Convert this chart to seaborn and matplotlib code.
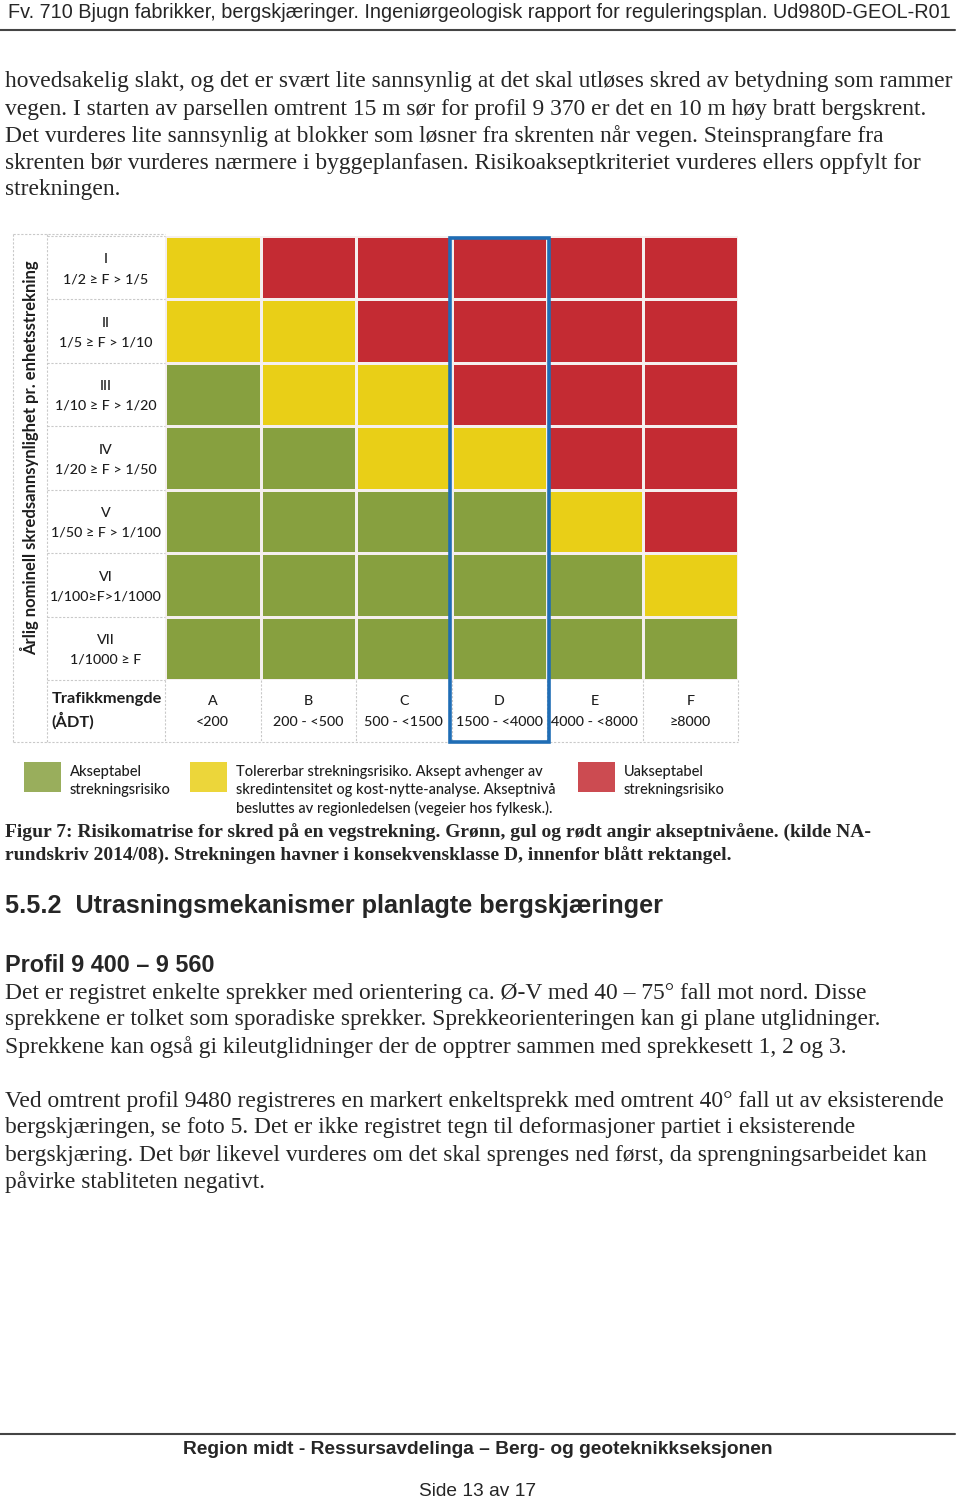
import numpy as np
import pandas as pd
import matplotlib
matplotlib.use("Agg")
import matplotlib.pyplot as plt
from matplotlib.colors import ListedColormap
from matplotlib.patches import Rectangle
import seaborn as sns

# ─── Data ─────────────────────────────────────────────────────────────────────

row_roman = ["I", "II", "III", "IV", "V", "VI", "VII"]
row_freq = ["1/2 ≥ F > 1/5", "1/5 ≥ F > 1/10", "1/10 ≥ F > 1/20", "1/20 ≥ F > 1/50",
            "1/50 ≥ F > 1/100", "1/100≥F>1/1000", "1/1000 ≥ F"]
col_letters = ["A", "B", "C", "D", "E", "F"]
col_adt = ["<200", "200 - <500", "500 - <1500", "1500 - <4000", "4000 - <8000", "≥8000"]

# 0 = akseptabel (grønn), 1 = tolererbar (gul), 2 = uakseptabel (rød)
level_I = [1, 2, 2, 2, 2, 2]
level_II = [1, 1, 2, 2, 2, 2]
level_III = [0, 1, 1, 2, 2, 2]
level_IV = [0, 0, 1, 1, 2, 2]
level_V = [0, 0, 0, 0, 1, 2]
level_VI = [0, 0, 0, 0, 0, 1]
level_VII = [0, 0, 0, 0, 0, 0]

highlight_col = "D"

level_colors = ["#87A03F", "#E9CF17", "#C42B33"]
legend_text = [
    "Akseptabel\nstrekningsrisiko",
    "Tolererbar strekningsrisiko. Aksept avhenger av\nskredintensitet og kost-nytte-analyse. Akseptnivå\nbesluttes av regionledelsen (vegeier hos fylkesk.).",
    "Uakseptabel\nstrekningsrisiko",
]

header = "Fv. 710 Bjugn fabrikker, bergskjæringer. Ingeniørgeologisk rapport for reguleringsplan. Ud980D-GEOL-R01"
para1 = [
    "hovedsakelig slakt, og det er svært lite sannsynlig at det skal utløses skred av betydning som rammer",
    "vegen. I starten av parsellen omtrent 15 m sør for profil 9 370 er det en 10 m høy bratt bergskrent.",
    "Det vurderes lite sannsynlig at blokker som løsner fra skrenten når vegen. Steinsprangfare fra",
    "skrenten bør vurderes nærmere i byggeplanfasen. Risikoakseptkriteriet vurderes ellers oppfylt for",
    "strekningen.",
]
caption = [
    "Figur 7: Risikomatrise for skred på en vegstrekning. Grønn, gul og rødt angir akseptnivåene. (kilde NA-",
    "rundskriv 2014/08). Strekningen havner i konsekvensklasse D, innenfor blått rektangel.",
]
heading = "5.5.2  Utrasningsmekanismer planlagte bergskjæringer"
subheading = "Profil 9 400 – 9 560"
para2 = [
    "Det er registret enkelte sprekker med orientering ca. Ø-V med 40 – 75° fall mot nord. Disse",
    "sprekkene er tolket som sporadiske sprekker. Sprekkeorienteringen kan gi plane utglidninger.",
    "Sprekkene kan også gi kileutglidninger der de opptrer sammen med sprekkesett 1, 2 og 3.",
]
para3 = [
    "Ved omtrent profil 9480 registreres en markert enkeltsprekk med omtrent 40° fall ut av eksisterende",
    "bergskjæringen, se foto 5. Det er ikke registret tegn til deformasjoner partiet i eksisterende",
    "bergskjæring. Det bør likevel vurderes om det skal sprenges ned først, da sprengningsarbeidet kan",
    "påvirke stabliteten negativt.",
]
footer = "Region midt - Ressursavdelinga – Berg- og geoteknikkseksjonen"
page_no = "Side 13 av 17"

matrix = pd.DataFrame([level_I, level_II, level_III, level_IV, level_V, level_VI, level_VII],
                      index=row_roman, columns=col_letters)

# ─── Fonts ────────────────────────────────────────────────────────────────────

sns.set_theme(style="white")
serif = ["Liberation Serif", "DejaVu Serif"]
sans = ["Liberation Sans", "DejaVu Sans"]
calibri = ["Lato", "DejaVu Sans"]
plt.rcParams["font.family"] = serif

body_fs = 16.9
W, H = 960, 1500
fig = plt.figure(figsize=(W / 100, H / 100), dpi=100)
fig.patch.set_facecolor("white")

page = fig.add_axes([0, 0, 1, 1])
page.set_xlim(0, W)
page.set_ylim(H, 0)
page.axis("off")

# ─── Header / body text ───────────────────────────────────────────────────────

page.text(8, 13, header, family=sans, fontsize=14.3, va="center", ha="left")
page.plot([0, 955], [30, 30], color="#444444", lw=1.5)

for i, line in enumerate(para1):
    page.text(5, 82 + 27 * i, line, family=serif, fontsize=body_fs, va="center")

# ─── Risk matrix ──────────────────────────────────────────────────────────────

x0, x1, y0, y1 = 165, 738, 236, 680
ax = fig.add_axes([x0 / W, 1 - y1 / H, (x1 - x0) / W, (y1 - y0) / H])
sns.heatmap(matrix, cmap=ListedColormap(level_colors), vmin=-0.5, vmax=2.5, cbar=False,
            linewidths=2, linecolor="#f5efee", ax=ax)
ax.set_xticks([])
ax.set_yticks([])
ax.set_xlabel("")
ax.set_ylabel("")

cw = (x1 - x0) / len(col_letters)
rh = (y1 - y0) / len(row_roman)
lab_x = -(x0 - 47) / cw          # left edge of label column
vert_x = -(x0 - 13) / cw         # left edge of vertical title column
bot_y = len(row_roman) + 62 / rh  # bottom of label row
grid_kw = dict(color="#c9c9c9", lw=0.8, ls=(0, (2, 1.5)), clip_on=False)
lab_fs = 10.3
ink = "#1e1e1e"
txt_kw = dict(family=calibri, fontsize=lab_fs, fontweight="medium", color=ink, clip_on=False)

for i, (rom, fr) in enumerate(zip(row_roman, row_freq)):
    ax.text(lab_x / 2, i + 0.37, rom, ha="center", va="center", **txt_kw)
    ax.text(lab_x / 2, i + 0.68, fr, ha="center", va="center", **txt_kw)
    ax.plot([lab_x, 0], [i, i], **grid_kw)
ax.plot([lab_x, 0], [len(row_roman)] * 2, **grid_kw)

for j, (let, adt) in enumerate(zip(col_letters, col_adt)):
    ax.text(j + 0.5, len(row_roman) + 0.33, let, ha="center", va="center", **txt_kw)
    ax.text(j + 0.5, len(row_roman) + 0.66, adt, ha="center", va="center", **txt_kw)
    ax.plot([j, j], [len(row_roman), bot_y], **grid_kw)
ax.plot([len(col_letters)] * 2, [len(row_roman), bot_y], **grid_kw)

ax.text(lab_x + 0.05, len(row_roman) + 0.3, "Trafikkmengde", family=calibri, fontsize=11.8,
        fontweight="bold", ha="left", va="center", color=ink, clip_on=False)
ax.text(lab_x + 0.05, len(row_roman) + 0.64, "(ÅDT)", family=calibri, fontsize=11.8,
        fontweight="bold", ha="left", va="center", color=ink, clip_on=False)
ax.text((vert_x + lab_x) / 2, 3.5, "Årlig nominell skredsannsynlighet pr. enhetsstrekning",
        family=calibri, fontsize=12, fontweight="bold", rotation=90, ha="center", va="center",
        color=ink, clip_on=False)

# outer dashed frame of label columns
ax.plot([vert_x, vert_x], [-0.03, bot_y], **grid_kw)
ax.plot([lab_x, lab_x], [-0.03, bot_y], **grid_kw)
ax.plot([vert_x, len(col_letters)], [bot_y, bot_y], **grid_kw)
ax.plot([vert_x, 0], [-0.03, -0.03], **grid_kw)

# blue rectangle around the chosen consequence class
hj = col_letters.index(highlight_col)
ax.add_patch(Rectangle((hj - 0.02, 0.03), 1.04, bot_y - 0.03, fill=False, ec="#1F6DB5",
                       lw=2.6, clip_on=False, zorder=5))

# ─── Legend ───────────────────────────────────────────────────────────────────

leg_x = [24, 190, 578]
for lx, col, txt in zip(leg_x, level_colors, legend_text):
    page.add_patch(Rectangle((lx, 762), 37, 30, color=col, alpha=0.85, lw=0))
    page.text(lx + 46, 765, txt, family=calibri, fontsize=10.5, fontweight="medium", va="top",
              ha="left", color=ink, linespacing=1.35)

# ─── Caption, headings, body ──────────────────────────────────────────────────

for i, line in enumerate(caption):
    page.text(5, 833 + 23 * i, line, family=serif, fontsize=14.0, fontweight="bold", va="center")

page.text(5, 906, heading, family=sans, fontsize=18.2, fontweight="bold", va="center")
page.text(5, 966, subheading, family=sans, fontsize=16.8, fontweight="bold", va="center")

for i, line in enumerate(para2):
    page.text(5, 993 + 27 * i, line, family=serif, fontsize=body_fs, va="center")
for i, line in enumerate(para3):
    page.text(5, 1101 + 27 * i, line, family=serif, fontsize=body_fs, va="center")

# ─── Footer ───────────────────────────────────────────────────────────────────

page.plot([0, 955], [1434, 1434], color="#444444", lw=1.5)
page.text(478, 1450, footer, family=sans, fontsize=13.8, fontweight="bold", ha="center", va="center")
page.text(478, 1491, page_no, family=sans, fontsize=13.8, ha="center", va="center")

fig.savefig("out.png", dpi=100, facecolor="white")
